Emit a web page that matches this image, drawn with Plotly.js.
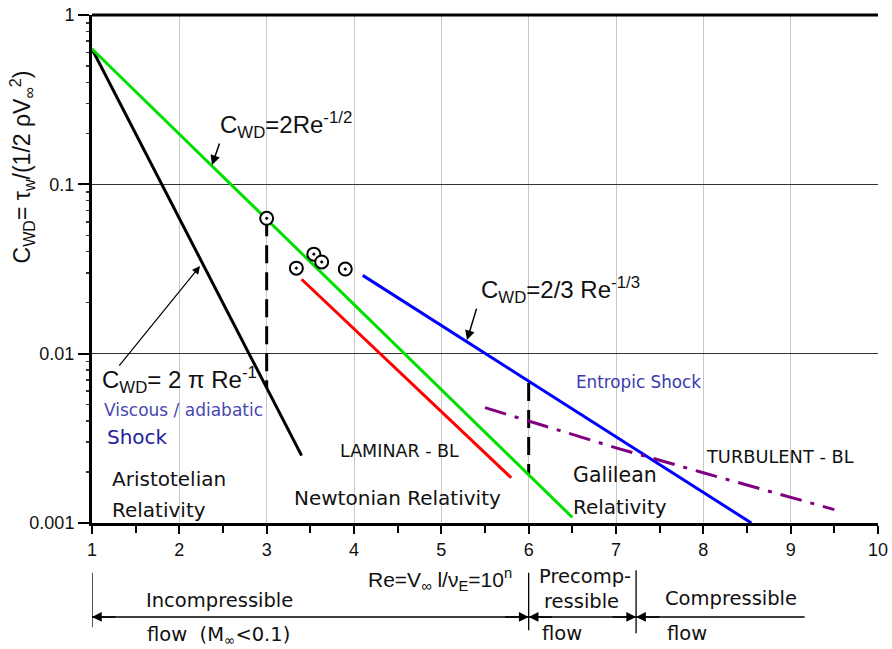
<!DOCTYPE html>
<html>
<head>
<meta charset="utf-8">
<script src="https://cdn.plot.ly/plotly-3.0.1.min.js"></script>
<style>html,body{margin:0;padding:0;background:#fff}</style>
</head>
<body>
<div id="chart" style="width:892px;height:649px"></div>
<script>
// ---- data (x = n, Re = 10^n ; y = C_WD) ----
const blackX = [1, 3.4];            // C_WD = 2 pi Re^-1 (viscous / adiabatic shock)
const blackY = [0.63, 0.0025];
const greenX = [1, 6.5];            // C_WD = 2 Re^-1/2
const greenY = [0.63, 0.00108];
const redX = [3.4, 5.8];            // laminar BL
const redY = [0.0275, 0.00185];
const blueX = [4.1, 8.55];          // C_WD = 2/3 Re^-1/3 (entropic shock)
const blueY = [0.029, 0.001];
const purpleX = [5.5, 6, 7, 8, 9, 9.5];   // turbulent BL
const purpleY = [0.0048, 0.0040, 0.00278, 0.00198, 0.00141, 0.00120];
const dash1X = [3, 3];
const dash1Y = [0.063, 0.0063];
const dash2X = [6, 6];
const dash2Y = [0.0067, 0.00193];
const pointsX = [3, 3.34, 3.54, 3.63, 3.9];
const pointsY = [0.063, 0.032, 0.0387, 0.0348, 0.0316];
const xTicks = [1, 2, 3, 4, 5, 6, 7, 8, 9, 10];
const yTicks = [0.001, 0.01, 0.1, 1];
const yTickText = ['0.001', '0.01', '0.1', '1'];
const yMinorTicks = [0.002, 0.003, 0.004, 0.005, 0.006, 0.007, 0.008, 0.009,
                     0.02, 0.03, 0.04, 0.05, 0.06, 0.07, 0.08, 0.09,
                     0.2, 0.3, 0.4, 0.5, 0.6, 0.7, 0.8, 0.9];

const ARIAL = 'Liberation Sans, Arial, sans-serif';
const DEJA = 'DejaVu Sans, Verdana, sans-serif';

const line = (x, y, color, width, dash) => ({
  x: x, y: y, type: 'scatter', mode: 'lines', hoverinfo: 'skip',
  line: {color: color, width: width, dash: dash || 'solid'}
});

const traces = [
  line(dash1X, dash1Y, '#000', 3, '18px,9px'),
  line(dash2X, dash2Y, '#000', 3, '18px,9px'),
  line(blackX, blackY, '#000', 3),
  line(greenX, greenY, '#00e000', 3),
  line(redX, redY, '#ff0000', 3),
  line(blueX, blueY, '#0000ff', 3),
  line(purpleX, purpleY, '#800080', 3, '22px,9px,4px,9px'),
  {x: pointsX, y: pointsY, type: 'scatter', mode: 'markers', hoverinfo: 'skip',
   marker: {symbol: 'circle-dot', size: 13, color: '#fff', line: {color: '#000', width: 2}}}
];

const txt = (x, y, text, size, font, color) => ({
  x: x, y: y, xref: 'x', yref: 'y', text: text, showarrow: false,
  xanchor: 'left', yanchor: 'middle',
  font: {family: font, size: size, color: color || '#111'}
});
const ptxt = (x, y, text, size, font, anchor) => ({
  x: x, y: y, xref: 'paper', yref: 'paper', text: text, showarrow: false,
  xanchor: anchor || 'left', yanchor: 'middle',
  font: {family: font, size: size, color: '#111'}
});
const arr = (x, y, ax, ay, w, xref, yref) => ({
  x: x, y: y, xref: xref || 'x', yref: yref || 'y', ax: ax, ay: ay, text: '',
  showarrow: true, arrowhead: 2, arrowsize: 1.3, arrowwidth: w || 1.5,
  arrowcolor: '#000', standoff: 0, startstandoff: 0
});

const annotations = [
  txt(2.44, -0.650, 'C<sub>WD</sub>=2Re<sup>-1/2</sup>', 24, ARIAL),
  txt(1.09, -2.156, 'C<sub>WD</sub>= 2 π Re<sup>-1</sup>', 24, ARIAL),
  txt(5.43, -1.624, 'C<sub>WD</sub>=2/3 Re<sup>-1/3</sup>', 24, ARIAL),
  txt(1.114, -2.333, 'Viscous / adiabatic', 17, DEJA, '#4848b0'),
  txt(1.149, -2.493, 'Shock', 20, DEJA, '#22229a'),
  txt(1.206, -2.741, 'Aristotelian', 20, DEJA),
  txt(1.206, -2.924, 'Relativity', 20, DEJA),
  txt(3.817, -2.575, 'LAMINAR - BL', 17.5, DEJA),
  txt(3.29, -2.853, 'Newtonian Relativity', 20, DEJA),
  txt(6.485, -2.717, 'Galilean', 20.5, DEJA),
  txt(6.485, -2.906, 'Relativity', 20, DEJA),
  txt(8.008, -2.605, 'TURBULENT - BL', 17.8, DEJA),
  txt(6.519, -2.168, 'Entropic Shock', 16.8, DEJA, '#3a3ab0'),
  arr(2.374, -0.886, 8, -23, 1.5),
  arr(2.237, -1.483, -82, 101, 1.2),
  arr(5.294, -1.920, 10, -33, 1.5),
  // axis titles
  {x: -0.089, y: 0.70, xref: 'paper', yref: 'paper', textangle: -90, showarrow: false,
   text: 'C<sub>WD</sub>= τ<sub>w</sub>/(1/2 ρV<sub>∞</sub><sup>2</sup>)',
   font: {family: ARIAL, size: 23, color: '#111'}, xanchor: 'center', yanchor: 'middle'},
  ptxt(0.443, -0.112, 'Re=V<sub>∞</sub> l/ν<sub>E</sub>=10<sup>n</sup>', 21, ARIAL, 'center'),
  // flow regime labels
  ptxt(0.1616, -0.152, 'Incompressible', 19.5, DEJA, 'center'),
  ptxt(0.0674, -0.222, 'flow  (M<sub>∞</sub><0.1)', 19.5, DEJA),
  ptxt(0.566, -0.106, 'Precomp-', 19.5, DEJA),
  ptxt(0.572, -0.154, 'ressible', 19.5, DEJA),
  ptxt(0.570, -0.218, 'flow', 19.5, DEJA),
  ptxt(0.7265, -0.148, 'Compressible', 19.5, DEJA),
  ptxt(0.729, -0.218, 'flow', 19.5, DEJA),
  // arrows of the flow regime bar
  arr(1, -0.185, 25, 0, 1.5, 'x', 'paper'),
  arr(6, -0.185, -25, 0, 1.5, 'x', 'paper'),
  arr(6, -0.185, 25, 0, 1.5, 'x', 'paper'),
  arr(7.23, -0.185, -25, 0, 1.5, 'x', 'paper'),
  arr(7.23, -0.185, 25, 0, 1.5, 'x', 'paper')
];

const shapes = [
  {type: 'line', xref: 'paper', yref: 'paper', x0: 0, x1: 1, y0: 1, y1: 1, line: {color: '#000', width: 3}},
  {type: 'line', xref: 'x', yref: 'paper', x0: 1, x1: 9.16, y0: -0.185, y1: -0.185, line: {color: '#000', width: 1.3}},
  {type: 'line', xref: 'x', yref: 'paper', x0: 1, x1: 1, y0: -0.098, y1: -0.205, line: {color: '#000', width: 1.3}},
  {type: 'line', xref: 'x', yref: 'paper', x0: 6, x1: 6, y0: -0.098, y1: -0.211, line: {color: '#000', width: 1.3}},
  {type: 'line', xref: 'x', yref: 'paper', x0: 7.23, x1: 7.23, y0: -0.093, y1: -0.217, line: {color: '#000', width: 1.3}}
];

const layout = {
  width: 892, height: 649,
  margin: {l: 92, r: 14, t: 15, b: 126},
  paper_bgcolor: '#fff', plot_bgcolor: '#fff',
  showlegend: false, hovermode: false,
  xaxis: {
    range: [1, 10], tickvals: xTicks, ticks: 'outside', ticklen: 8, tickwidth: 2, tickcolor: '#000',
    showgrid: true, gridcolor: '#c8c8c8', gridwidth: 1, zeroline: false,
    showline: true, linecolor: '#000', linewidth: 3,
    tickfont: {family: ARIAL, size: 18, color: '#111'},
    minor: {dtick: 0.5, ticks: 'outside', ticklen: 7, tickwidth: 2, tickcolor: '#000', showgrid: false}
  },
  yaxis: {
    type: 'log', range: [-3, 0], tickvals: yTicks, ticktext: yTickText,
    ticks: 'outside', ticklen: 11, tickwidth: 2, tickcolor: '#000',
    showgrid: true, gridcolor: '#333', gridwidth: 1.3, zeroline: false,
    showline: true, linecolor: '#000', linewidth: 3,
    tickfont: {family: ARIAL, size: 18, color: '#111'},
    minor: {tickvals: yMinorTicks, ticks: 'outside', ticklen: 3, tickwidth: 1.5, tickcolor: '#333', showgrid: false}
  },
  annotations: annotations,
  shapes: shapes
};

Plotly.newPlot('chart', traces, layout, {displayModeBar: false, staticPlot: true});
</script>
</body>
</html>
